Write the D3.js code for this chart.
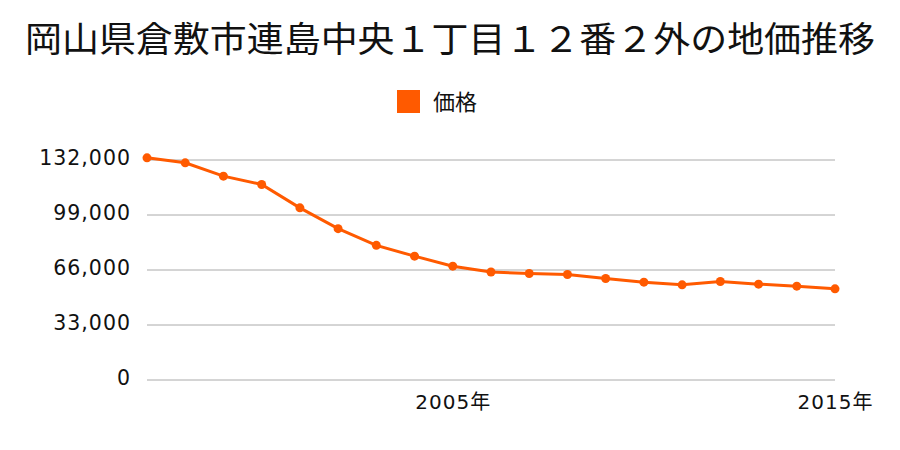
<!DOCTYPE html>
<html><head><meta charset="utf-8">
<script src="https://cdn.jsdelivr.net/npm/d3@7"></script>
<style>body{margin:0;background:#fff}</style>
</head><body>
<svg id="c" width="900" height="450"></svg>
<script>
const years = [1997,1998,1999,2000,2001,2002,2003,2004,2005,2006,2007,2008,2009,2010,2011,2012,2013,2014,2015];
const prices = [133000,130000,122000,117000,103000,90500,80500,74000,68000,64500,63600,63000,60600,58400,56800,58800,57200,56000,54400];
const yTicks = [0,33000,66000,99000,132000];
const xTicks = [2005,2015];
const title = "岡山県倉敷市連島中央１丁目１２番２外の地価推移";
const seriesName = "価格";

const svg = d3.select("#c");
const cjk = "'Noto Sans CJK JP','Noto Sans',sans-serif";
const num = "'DejaVu Sans','Noto Sans CJK JP',sans-serif";
const color = "#ff5a00";
const x = d3.scaleLinear().domain([1997,2015]).range([147,835]);
const y = d3.scaleLinear().domain([0,132000]).range([379.5,159.5]);

svg.append("text").attr("x",450).attr("y",52).attr("text-anchor","middle")
  .attr("font-family",cjk).attr("font-size",35).attr("fill","#111")
  .attr("textLength",850).attr("lengthAdjust","spacingAndGlyphs").text(title);

svg.append("rect").attr("x",397).attr("y",90).attr("width",23).attr("height",23).attr("fill",color);
svg.append("text").attr("x",433).attr("y",110).attr("font-family",cjk).attr("font-size",22).attr("fill","#111").text(seriesName);

const yAxis = d3.axisLeft(y).tickValues(yTicks).tickSize(-(835-147)).tickFormat(d3.format(","));
const gy = svg.append("g").attr("transform","translate(147,0)").call(yAxis);
gy.select(".domain").remove();
gy.selectAll(".tick line").attr("stroke","#aaa");
gy.selectAll(".tick text").attr("x",-16).attr("dy","0.22em").attr("font-family",num).attr("font-size",20.5)
  .attr("letter-spacing",1).attr("fill","#111");

const xAxis = d3.axisBottom(x).tickValues(xTicks).tickSize(0).tickFormat(d=>d+"年");
const gx = svg.append("g").attr("transform","translate(0,379.5)").call(xAxis);
gx.select(".domain").remove();
gx.selectAll(".tick text").attr("dy",0).attr("y",29).attr("font-family",num).attr("font-size",20)
  .attr("letter-spacing",1).attr("fill","#111");

const data = years.map((yr,i)=>({yr,v:prices[i]}));
svg.append("path").datum(data).attr("fill","none").attr("stroke",color).attr("stroke-width",3)
  .attr("d",d3.line().x(d=>x(d.yr)).y(d=>y(d.v)));
svg.selectAll("circle.p").data(data).join("circle").attr("class","p")
  .attr("cx",d=>x(d.yr)).attr("cy",d=>y(d.v)).attr("r",4.5).attr("fill",color);
</script>
</body></html>
